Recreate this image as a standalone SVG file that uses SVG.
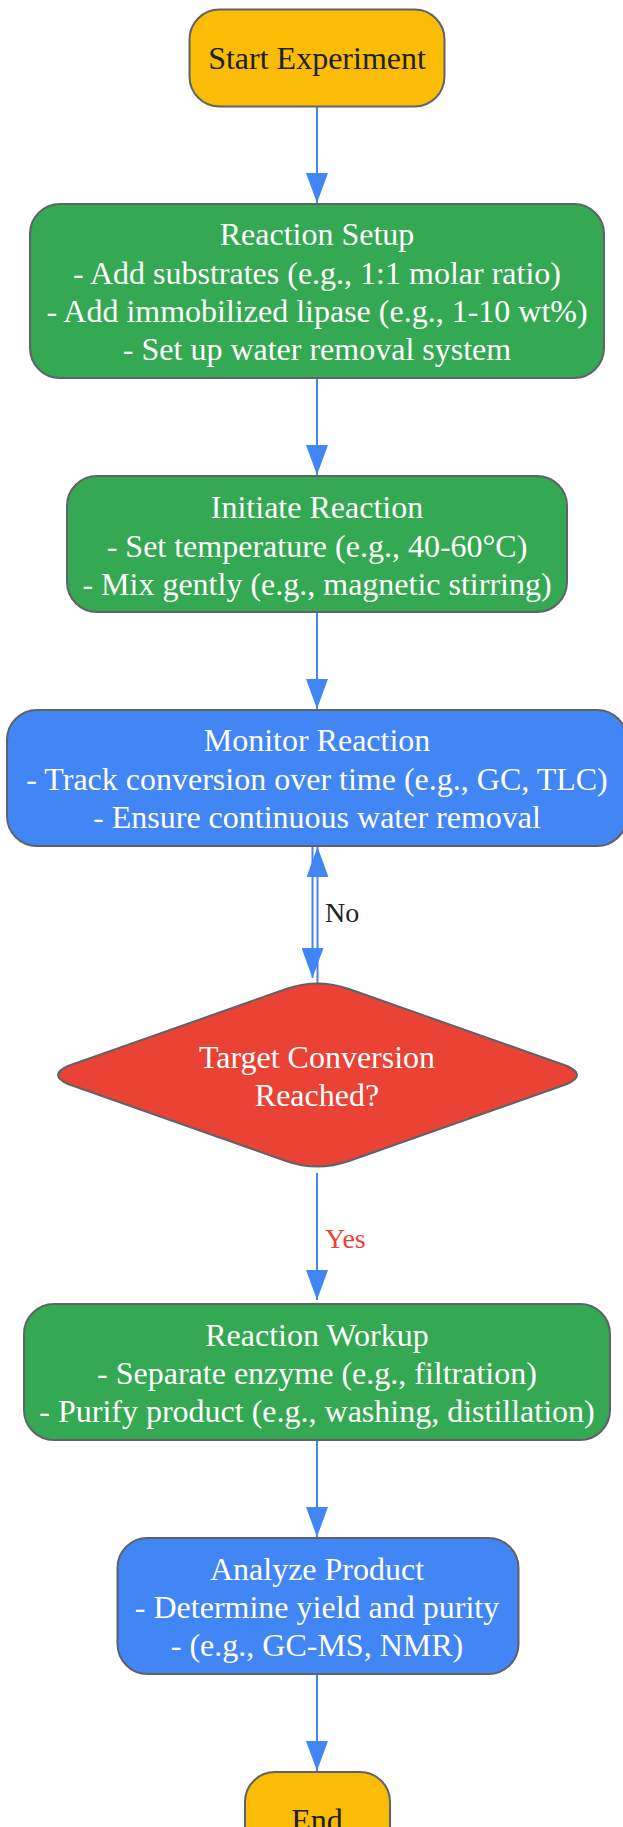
<svg xmlns="http://www.w3.org/2000/svg" width="623" height="1827" viewBox="0 0 623 1827">
<defs>
<marker id="arr" markerUnits="userSpaceOnUse" markerWidth="30" markerHeight="22" refX="30" refY="11" orient="auto">
<path d="M0,0 L30,11 L0,22 Z" fill="#4285F4"/>
</marker>
<style>
.node{stroke:#5f6368;stroke-width:2}
.y{fill:#FBBC05}.g{fill:#34A853}.b{fill:#4285F4}.r{fill:#EA4335}
text{font-family:"Liberation Serif","Times New Roman",serif;font-size:32px;text-anchor:middle}
.w{fill:#ffffff}.d{fill:#202124}
.edge{stroke:#4285F4;stroke-width:2;fill:none;marker-end:url(#arr)}
.lbl{font-size:28px;text-anchor:start}
</style>
</defs>
<rect width="623" height="1827" fill="#ffffff"/>
<g id="edges">
<path class="edge" d="M317,106 L317,203"/>
<path class="edge" d="M317,378 L317,475"/>
<path class="edge" d="M317,612 L317,709"/>
<path class="edge" d="M312.5,846 L312.5,978"/>
<path class="edge" d="M317.5,983 L317.5,847"/>
<text class="lbl d" x="325" y="922">No</text>
<path class="edge" d="M317,1173 L317,1300"/>
<text class="lbl" x="325" y="1248" fill="#EA4335">Yes</text>
<path class="edge" d="M317,1440 L317,1537"/>
<path class="edge" d="M317,1674 L317,1771"/>
</g>
<g id="start">
<rect class="node y" x="189.5" y="9.5" width="255" height="97" rx="30"/>
<text class="d" x="317" y="69">Start Experiment</text>
</g>
<g id="setup">
<rect class="node g" x="30" y="204" width="574" height="174" rx="30"/>
<text class="w" x="317" y="245">Reaction Setup</text>
<text class="w" x="317" y="283.5">- Add substrates (e.g., 1:1 molar ratio)</text>
<text class="w" x="317" y="322">- Add immobilized lipase (e.g., 1-10 wt%)</text>
<text class="w" x="317" y="360">- Set up water removal system</text>
</g>
<g id="initiate">
<rect class="node g" x="67" y="476" width="500" height="136" rx="30"/>
<text class="w" x="317" y="518">Initiate Reaction</text>
<text class="w" x="317" y="556.5">- Set temperature (e.g., 40-60°C)</text>
<text class="w" x="317" y="595">- Mix gently (e.g., magnetic stirring)</text>
</g>
<g id="monitor">
<rect class="node b" x="7" y="710" width="620" height="136" rx="30"/>
<text class="w" x="317" y="751">Monitor Reaction</text>
<text class="w" x="317" y="789.5">- Track conversion over time (e.g., GC, TLC)</text>
<text class="w" x="317" y="828">- Ensure continuous water removal</text>
</g>
<g id="decision">
<path class="node r" d="M286,989 Q317.5,978 349,989 L567,1066 Q587,1075 567,1084 L349,1161 Q317.5,1172 286,1161 L68,1084 Q48,1075 68,1066 Z"/>
<text class="w" x="317" y="1068">Target Conversion</text>
<text class="w" x="317" y="1106">Reached?</text>
</g>
<g id="workup">
<rect class="node g" x="24" y="1304" width="586" height="136" rx="30"/>
<text class="w" x="317" y="1345.5">Reaction Workup</text>
<text class="w" x="317" y="1383.5">- Separate enzyme (e.g., filtration)</text>
<text class="w" x="317" y="1421.5">- Purify product (e.g., washing, distillation)</text>
</g>
<g id="analyze">
<rect class="node b" x="117.5" y="1538" width="401" height="136" rx="30"/>
<text class="w" x="317" y="1580">Analyze Product</text>
<text class="w" x="317" y="1618">- Determine yield and purity</text>
<text class="w" x="317" y="1656">- (e.g., GC-MS, NMR)</text>
</g>
<g id="end">
<rect class="node y" x="245" y="1772" width="145" height="97" rx="30"/>
<text class="d" x="317" y="1831">End</text>
</g>
</svg>
